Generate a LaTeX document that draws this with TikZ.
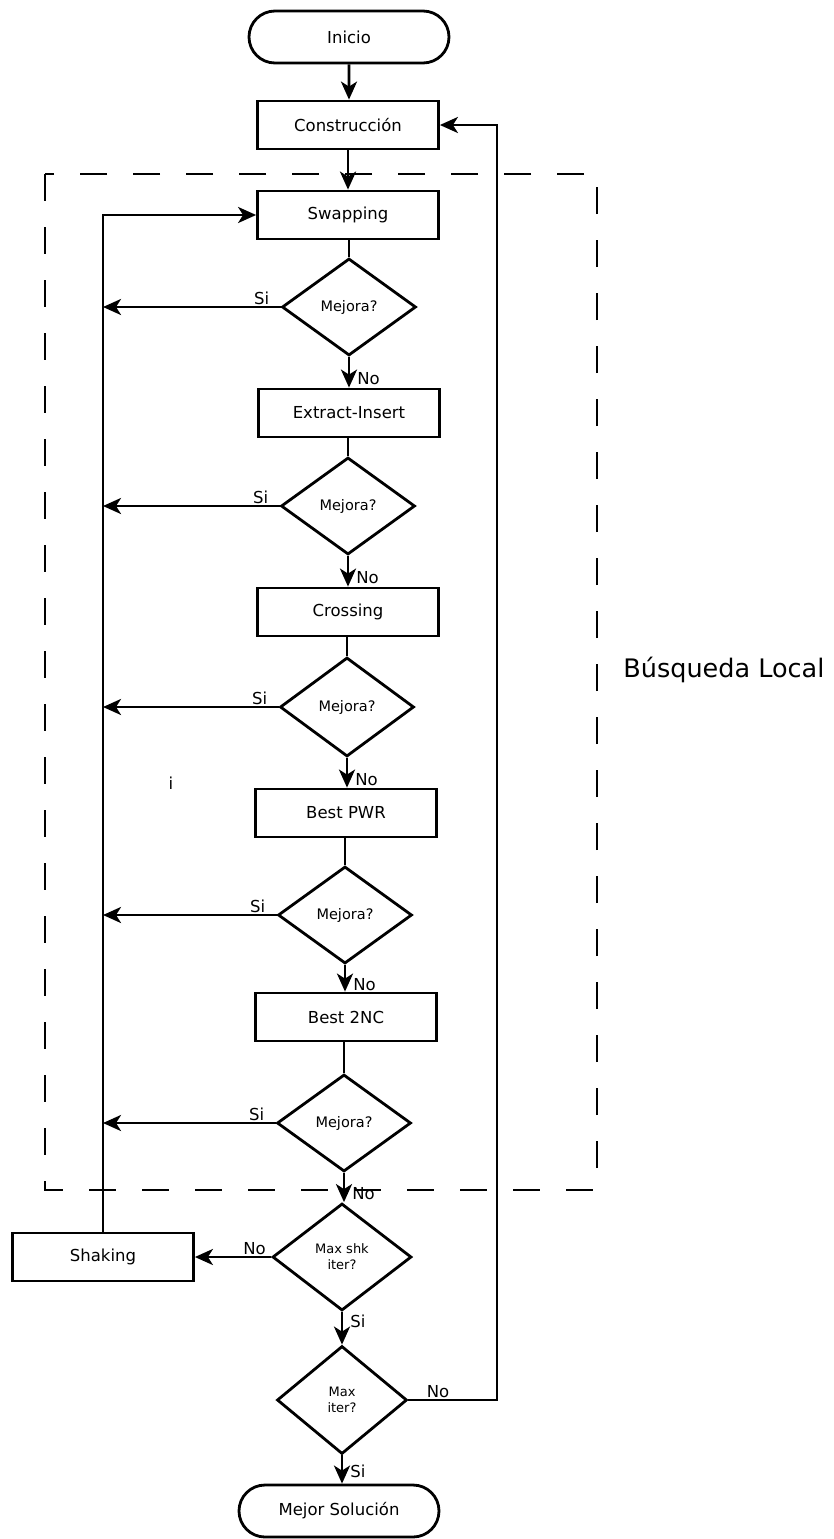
\documentclass[tikz,border=0pt]{standalone}
\usepackage{fontspec}
\setmainfont{DejaVu Sans}
\usetikzlibrary{arrows.meta, shapes.geometric, shapes.misc}

\begin{document}
\begin{tikzpicture}[
    x=1pt, y=-1pt,
    line width=2.8pt,
    font=\fontsize{16.5}{19}\selectfont,
    terminal/.style={rounded rectangle, draw=black, minimum width=200pt, minimum height=52pt, inner sep=0pt},
    process/.style={rectangle, draw=black, minimum width=181pt, minimum height=48pt, inner sep=0pt},
    decision/.style={diamond, draw=black, minimum width=134pt, minimum height=97pt, inner sep=0pt, font=\fontsize{14.5}{17}\selectfont},
    lbl/.style={inner sep=1pt, font=\fontsize{16.5}{19}\selectfont},
    arr/.style={-{Stealth[length=18pt, width=16pt, inset=5pt]}},
    region/.style={dash pattern=on 27pt off 26pt}
]
\useasboundingbox (0,0) rectangle (833,1539);
% start and construction
\node[terminal] (inicio) at (349,37) {Inicio};
\node[process] (constr) at (348,125) {Construcción};
% local search moves
\node[process] (swap) at (348,215) {Swapping};
\node[decision] (d1) at (349,307) {Mejora?};
\node[process] (ext) at (349,413) {Extract-Insert};
\node[decision] (d2) at (348,506) {Mejora?};
\node[process] (cross) at (348,612) {Crossing};
\node[decision, minimum height=99pt] (d3) at (347,707) {Mejora?};
\node[process] (pwr) at (346,813) {Best PWR};
\node[decision] (d4) at (345,915) {Mejora?};
\node[process] (nc) at (346,1017) {Best 2NC};
\node[decision] (d5) at (344,1123) {Mejora?};
% shaking and stop tests
\node[decision, minimum width=139pt, minimum height=107pt, font=\fontsize{13}{16}\selectfont, align=center] (dshk) at (342,1257) {Max shk\\iter?};
\node[process] (shaking) at (103,1257) {Shaking};
\node[decision, minimum width=130pt, minimum height=108pt, font=\fontsize{13}{16}\selectfont, align=center] (diter) at (342,1400) {Max\\iter?};
\node[terminal] (mejor) at (339,1511) {Mejor Solución};
\coordinate (ret) at (497,1400);
% stray mark and region
\node[lbl] (stray) at (171,783) {i};
\draw[region] (45,174) rectangle (597,1190);
\node[anchor=west, inner sep=0pt, font=\fontsize{25.5}{30}\selectfont] (zona) at (622,670) {Búsqueda Local};
% connections
\draw[arr] (inicio) -- (inicio |- constr.north);
\draw[arr] (constr) -- (swap);
\foreach \b/\d in {swap/d1, ext/d2, cross/d3, pwr/d4, nc/d5}{\draw (\d.north |- \b.south) -- (\d.north);}
\foreach \d/\b in {d1/ext, d2/cross, d3/pwr, d4/nc, d5/dshk}{
  \draw[arr] (\d.south) -- node[lbl, pos=0.72, right=6pt] {No} (\d.south |- \b.north);}
\foreach \d in {d1,d2,d3,d4,d5}{
  \draw[arr] (\d.west) -- node[lbl, pos=0, anchor=south east, xshift=-9pt] {Si} (\d.west -| shaking.north);}
\draw[arr] (shaking.north) |- (swap.west);
\draw[arr] (dshk.west) -- node[lbl, pos=0, anchor=south east, xshift=-3pt] {No} (shaking.east);
\draw[arr] (dshk.south) -- node[lbl, pos=0.3, right=6pt] {Si} (diter.north);
\draw[arr] (diter.east) -- node[lbl, pos=0, anchor=south west, xshift=16pt] {No} (ret) |- (constr.east);
\draw[arr] (diter.south) -- node[lbl, pos=0.55, right=6pt] {Si} (diter.south |- mejor.north);
\end{tikzpicture}
\end{document}
